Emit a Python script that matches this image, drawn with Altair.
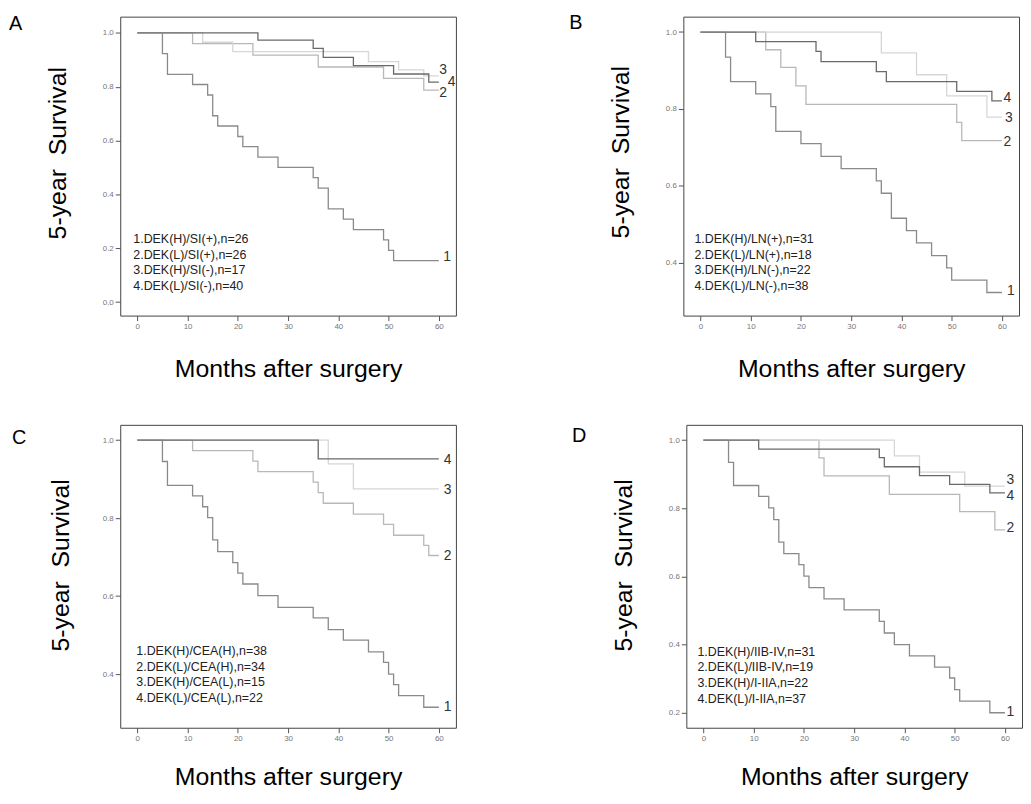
import altair as alt
import pandas as pd

# ---------------- Panel A ----------------
a1_t = [0, 5, 6, 11, 14, 15, 16, 20, 21, 24, 28, 35, 36, 38, 41, 43, 49, 50, 51, 60]
a1_s = [1, .923, .846, .808, .769, .692, .654, .615, .577, .538, .5, .462, .423, .346, .308, .269, .231, .192, .154, .154]
a2_t = [0, 11, 23, 36, 49, 57, 60]
a2_s = [1, .960, .917, .873, .831, .787, .787]
a3_t = [0, 13, 19, 46, 52, 57, 60]
a3_s = [1, .965, .930, .893, .862, .840, .840]
a4_t = [0, 24, 35, 37, 43, 51, 58, 60]
a4_s = [1, .973, .942, .909, .878, .847, .817, .817]
a_legend = ["1.DEK(H)/SI(+),n=26", "2.DEK(L)/SI(+),n=26", "3.DEK(H)/SI(-),n=17", "4.DEK(L)/SI(-),n=40"]
a_lab_x = [60.9, 60.1, 60.1, 61.8]
a_lab_y = [0.167, 0.776, 0.862, 0.816]

# ---------------- Panel B ----------------
b1_t = [0, 5, 6, 11, 14, 15, 20, 24, 28, 35, 36, 38, 41, 43, 46, 49, 50, 57, 60]
b1_s = [1, .935, .871, .839, .806, .742, .710, .677, .645, .613, .581, .516, .484, .452, .419, .387, .355, .323, .323]
b2_t = [0, 13, 16, 19, 21, 51, 52, 60]
b2_s = [1, .954, .908, .860, .812, .765, .718, .718]
b3_t = [0, 36, 43, 49, 57, 60]
b3_s = [1, .946, .889, .834, .779, .779]
b4_t = [0, 11, 23, 24, 35, 37, 51, 58, 60]
b4_s = [1, .975, .950, .923, .897, .871, .846, .821, .821]
b_legend = ["1.DEK(H)/LN(+),n=31", "2.DEK(L)/LN(+),n=18", "3.DEK(H)/LN(-),n=22", "4.DEK(L)/LN(-),n=38"]
b_lab_x = [61.0, 60.3, 60.6, 60.3]
b_lab_y = [0.326, 0.713, 0.776, 0.828]

# ---------------- Panel C ----------------
c1_t = [0, 5, 6, 11, 13, 14, 15, 16, 19, 20, 21, 24, 28, 35, 38, 41, 46, 49, 50, 51, 52, 57, 60]
c1_s = [1, .945, .884, .857, .829, .801, .744, .714, .686, .659, .631, .601, .571, .544, .514, .487, .457, .430, .400, .373, .345, .315, .315]
c2_t = [0, 11, 23, 24, 35, 36, 37, 43, 49, 51, 57, 58, 60]
c2_s = [1, .973, .946, .919, .892, .865, .838, .810, .784, .756, .730, .704, .704]
c3_t = [0, 38, 43, 60]
c3_s = [1, .939, .875, .875]
c4_t = [0, 36, 60]
c4_s = [1, .952, .952]
c_legend = ["1.DEK(H)/CEA(H),n=38", "2.DEK(L)/CEA(H),n=34", "3.DEK(H)/CEA(L),n=15", "4.DEK(L)/CEA(L),n=22"]
c_lab_x = [61.0, 61.0, 61.0, 61.0]
c_lab_y = [0.316, 0.703, 0.873, 0.950]

# ---------------- Panel D ----------------
d1_t = [0, 5, 6, 11, 13, 14, 15, 16, 19, 20, 21, 24, 28, 35, 36, 38, 41, 46, 49, 50, 51, 57, 60]
d1_s = [1, .935, .867, .835, .801, .767, .701, .667, .635, .601, .567, .534, .502, .468, .434, .400, .367, .334, .302, .268, .234, .200, .200]
d2_t = [0, 23, 24, 37, 51, 58, 60]
d2_s = [1, .948, .895, .841, .790, .737, .737]
d3_t = [0, 38, 43, 52, 60]
d3_s = [1, .954, .906, .865, .865]
d4_t = [0, 11, 35, 36, 43, 49, 57, 60]
d4_s = [1, .974, .949, .922, .896, .870, .845, .845]
d_legend = ["1.DEK(H)/IIB-IV,n=31", "2.DEK(L)/IIB-IV,n=19", "3.DEK(H)/I-IIA,n=22", "4.DEK(L)/I-IIA,n=37"]
d_lab_x = [60.3, 60.3, 60.3, 60.3]
d_lab_y = [0.201, 0.741, 0.884, 0.837]

curve_ids = ["1", "2", "3", "4"]
x_ticks = [0, 10, 20, 30, 40, 50, 60]
COLORS = ["#8a8a8a", "#b8b8b8", "#d6d6d6", "#6a6a6a"]
FONT = "Liberation Sans"


def curves_df(ts, ss):
    rows = []
    for cid, t, s in zip(curve_ids, ts, ss):
        for ti, si in zip(t, s):
            rows.append({"curve": cid, "t": ti, "s": si})
    return pd.DataFrame(rows)


def panel(letter, ts, ss, ydomain, yticks, legend_lines, leg_t, leg_s,
          lab_x, lab_y, height, letter_dx, letter_dy, ytitle_x, ytitle_y, xtitle_pad):
    df = curves_df(ts, ss)
    x = alt.X("t:Q", scale=alt.Scale(domain=[-3.4, 63.4], nice=False, zero=False),
              axis=alt.Axis(values=x_ticks, title="Months after surgery", titlePadding=xtitle_pad))
    y = alt.Y("s:Q", scale=alt.Scale(domain=ydomain, nice=False, zero=False),
              axis=alt.Axis(values=yticks, format=".1f", title="5-year\u00a0\u00a0Survival",
                            titleX=ytitle_x, titleY=ytitle_y, titleBaseline="bottom",
                            titleAlign="center", titleAngle=270))
    lines = alt.Chart(df).mark_line(interpolate="step-after", strokeWidth=1.3).encode(
        x=x, y=y,
        color=alt.Color("curve:N", scale=alt.Scale(domain=curve_ids, range=COLORS), legend=None),
    )
    lab_df = pd.DataFrame({"t": lab_x, "s": lab_y, "lab": curve_ids})
    labels = alt.Chart(lab_df).mark_text(align="left", baseline="middle", fontSize=14,
                                         font=FONT, color="#333333").encode(
        x=x, y=y, text="lab:N")
    leg_df = pd.DataFrame({"t": [leg_t], "s": [leg_s], "txt": ["\n".join(legend_lines)]})
    legend = alt.Chart(leg_df).mark_text(align="left", baseline="top", fontSize=12.5,
                                         lineHeight=15.7, lineBreak="\n", font=FONT,
                                         color="#222222").encode(
        x=x, y=y, text="txt:N")
    let_df = pd.DataFrame({"letter": [letter]})
    letter_mark = alt.Chart(let_df).mark_text(align="left", baseline="top", fontSize=20,
                                              font=FONT, color="black").encode(
        x=alt.value(letter_dx), y=alt.value(letter_dy), text="letter:N")
    return alt.layer(lines, labels, legend, letter_mark).properties(width=338, height=height)


pA = panel("A", [a1_t, a2_t, a3_t, a4_t], [a1_s, a2_s, a3_s, a4_s], [-0.05, 1.06],
           [0, 0.2, 0.4, 0.6, 0.8, 1.0], a_legend, -0.8, 0.256, a_lab_x, a_lab_y, 301,
           -112, -3, -50, 137, 26)
pB = panel("B", [b1_t, b2_t, b3_t, b4_t], [b1_s, b2_s, b3_s, b4_s], [0.263, 1.04],
           [0.4, 0.6, 0.8, 1.0], b_legend, -1.2, 0.477, b_lab_x, b_lab_y, 301,
           -115, -4, -50, 136, 26)
pC = panel("C", [c1_t, c2_t, c3_t, c4_t], [c1_s, c2_s, c3_s, c4_s], [0.2625, 1.039],
           [0.4, 0.6, 0.8, 1.0], c_legend, -0.2, 0.474, c_lab_x, c_lab_y, 305,
           -109, 3, -47, 141, 22)
pD = panel("D", [d1_t, d2_t, d3_t, d4_t], [d1_s, d2_s, d3_s, d4_s], [0.156, 1.045],
           [0.2, 0.4, 0.6, 0.8, 1.0], d_legend, -1.2, 0.396, d_lab_x, d_lab_y, 305,
           -115, 1, -50, 141, 22)

chart = alt.vconcat(
    alt.hconcat(pA, pB, spacing=112),
    alt.hconcat(pC, pD, spacing=115),
    spacing=42,
).properties(
    background="white",
    padding={"left": 0, "top": 1, "right": 0, "bottom": 0},
).configure_view(
    stroke="#444444", strokeWidth=1
).configure_axis(
    domain=False, grid=False, ticks=True, tickSize=5, tickColor="#555555",
    labelFontSize=8, labelColor="#777777", labelFont=FONT, labelPadding=2,
    titleFontSize=25, titleFontWeight="normal", titleColor="black", titleFont=FONT,
)

chart.save("out.html", embed_options={"renderer": "svg", "actions": False})
